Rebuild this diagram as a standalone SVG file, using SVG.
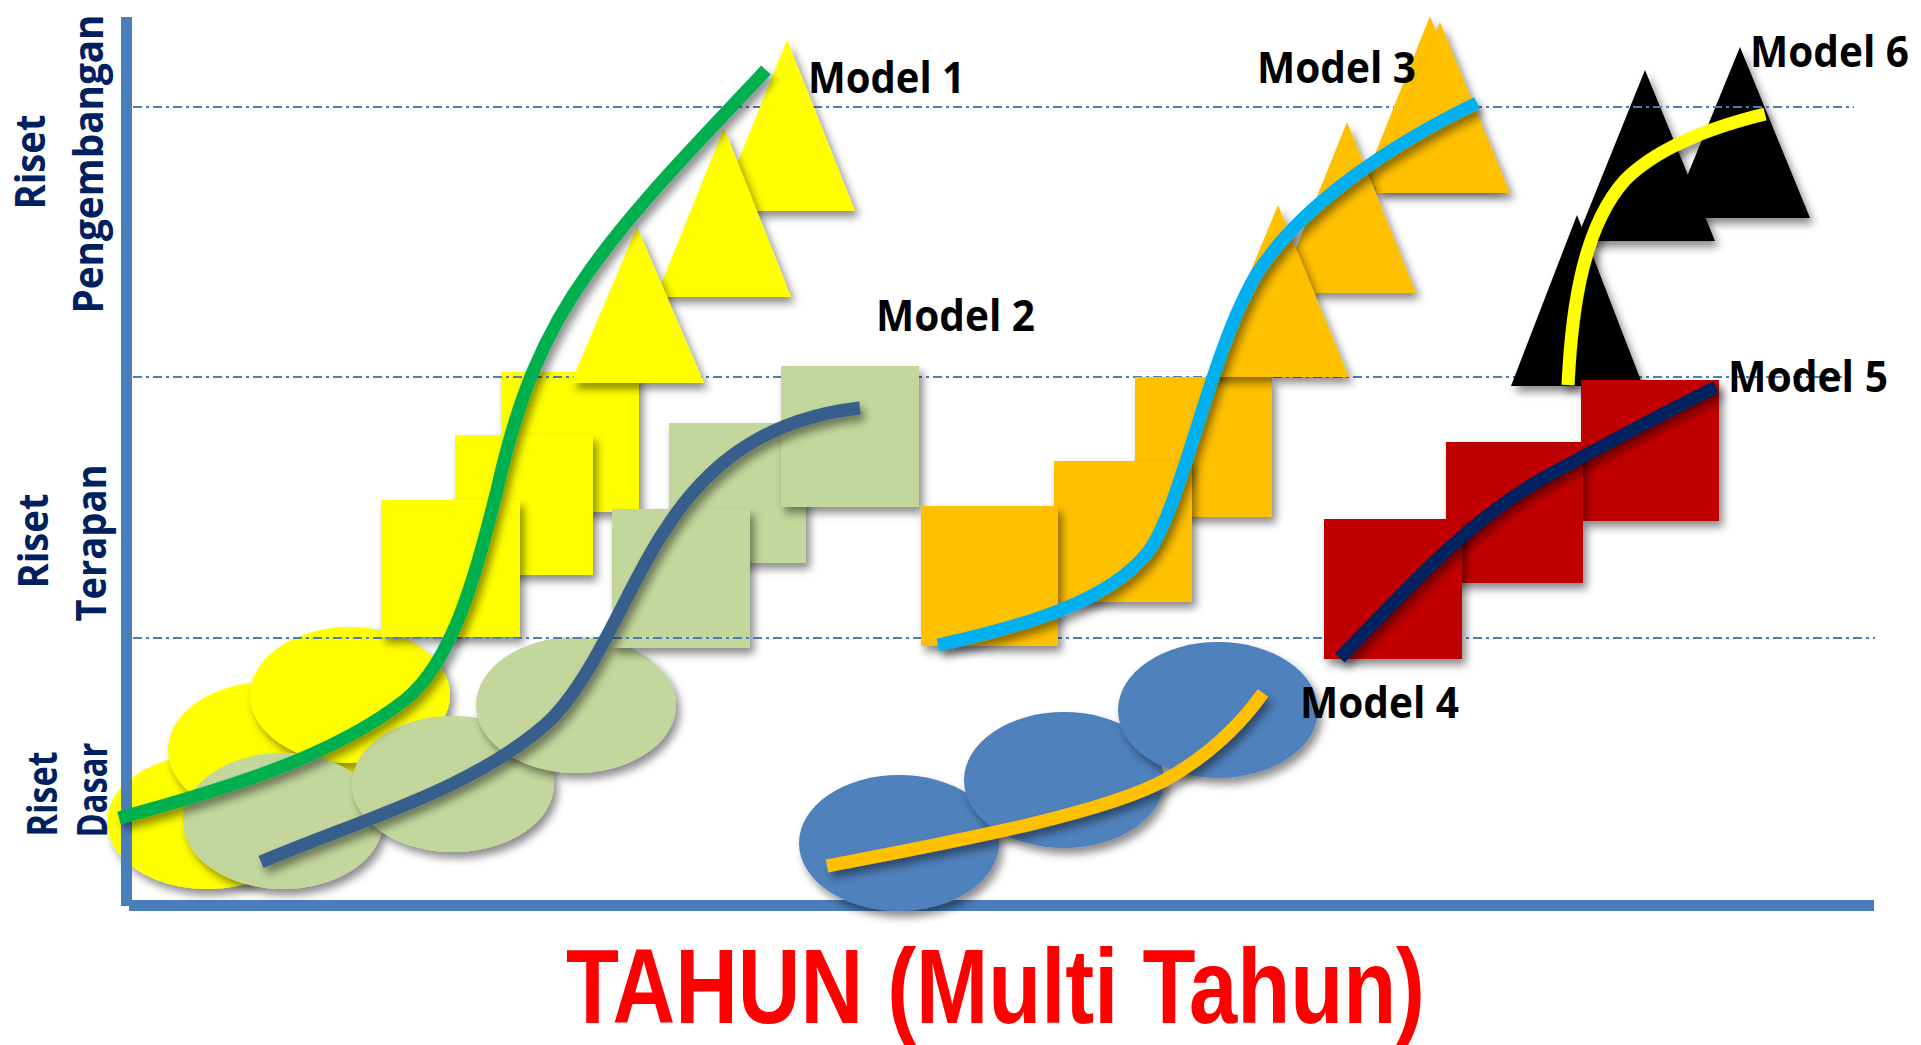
<svg xmlns="http://www.w3.org/2000/svg" width="1921" height="1045" viewBox="0 0 1921 1045">
<defs>
<filter id="sh" x="-15%" y="-15%" width="140%" height="140%">
<feDropShadow dx="4" dy="6" stdDeviation="4" flood-color="#000" flood-opacity="0.45"/>
</filter>
<style>
.sh{filter:url(#sh)}
.y{fill:#FFFF00}
.g{fill:#C3D69B}
.o{fill:#FFC000}
.b{fill:#4F81BD}
.r{fill:#C00000}
.k{fill:#000}
.grid{stroke:#4A7EBB;stroke-width:2;stroke-dasharray:9 4 3 4;fill:none}
.axis{fill:#4A7EBB}
.crv{fill:none;stroke-width:13;stroke-linecap:butt;filter:url(#sh)}
.ylab{font-family:"Open Sans","DejaVu Sans",sans-serif;font-weight:700;font-size:41px;fill:#002060;text-anchor:middle}
.mlab{font-family:"Open Sans","Liberation Sans",sans-serif;font-weight:700;font-size:43px;fill:#000}
.title{font-family:"Liberation Sans",Arial,sans-serif;font-weight:700;font-size:106px;fill:#FF0000}
</style>
</defs>
<rect width="1921" height="1045" fill="#fff"/>

<g id="x-axis"><rect class="axis" x="129" y="900" width="1745" height="11"/></g>

<g id="model1-base" class="y">
<ellipse class="sh" cx="207" cy="822" rx="100" ry="67"/>
<ellipse class="sh" cx="268" cy="750" rx="100" ry="68"/>
<ellipse class="sh" cx="350" cy="695" rx="100" ry="68"/>
<rect class="sh" x="501" y="372" width="138" height="140"/>
<rect class="sh" x="455" y="435" width="138" height="140"/>
<rect class="sh" x="381" y="500" width="139" height="137"/>
</g>

<g id="model2-base" class="g">
<ellipse class="sh" cx="283" cy="821" rx="100" ry="68"/>
<ellipse class="sh" cx="453" cy="784" rx="101" ry="68"/>
<ellipse class="sh" cx="576" cy="705" rx="100" ry="68"/>
<rect class="sh" x="669" y="423" width="137" height="140"/>
<rect class="sh" x="612" y="509" width="138" height="139"/>
</g>

<g id="grid-lower">
<line class="grid" x1="133" y1="377" x2="1845" y2="377"/>
<line class="grid" x1="133" y1="638" x2="1875" y2="638"/>
</g>

<g id="model6-shapes" class="k">
<polygon class="sh" points="1740,47 1810,218 1670,218"/>
<polygon class="sh" points="1645,70 1715,241 1576,241"/>
</g>

<g id="grid-top"><line class="grid" x1="133" y1="107" x2="1854" y2="107"/></g>

<g id="model6-low" class="k">
<polygon class="sh" points="1577,215 1643,386 1511,386"/>
</g>

<g id="model1-top" class="y">
<polygon class="sh" points="787,40 855,211 718,211"/>
<polygon class="sh" points="724,128 791,297 656,297"/>
<polygon class="sh" points="637,227 704,383 571,383"/>
</g>

<g id="model2-top" class="g">
<rect class="sh" x="781" y="366" width="138" height="141"/>
</g>

<g id="model3-shapes" class="o">
<rect class="sh" x="1135" y="377" width="137" height="140"/>
<rect class="sh" x="1054" y="461" width="138" height="141"/>
<rect class="sh" x="921" y="506" width="137" height="140"/>
<polygon class="sh" points="1430,16 1498,187 1362,187"/>
<polygon class="sh" points="1440,22 1510,193 1374,193"/>
<polygon class="sh" points="1347,122 1416,293 1278,293"/>
<polygon class="sh" points="1278,205 1349,377 1207,377"/>
</g>

<g id="model4-shapes" class="b">
<ellipse class="sh" cx="899" cy="843" rx="100" ry="68"/>
<ellipse class="sh" cx="1064" cy="780" rx="100" ry="68"/>
<ellipse class="sh" cx="1218" cy="710" rx="100" ry="68"/>
</g>

<g id="model5-shapes" class="r">
<rect class="sh" x="1581" y="380" width="138" height="141"/>
<rect class="sh" x="1446" y="442" width="137" height="141"/>
<rect class="sh" x="1324" y="519" width="138" height="140"/>
</g>

<g id="y-axis"><rect class="axis" x="121" y="17" width="11" height="889"/></g>

<g id="connectors">
<path class="crv" stroke="#00B050" d="M119,818 C230,788 335,755 405,700 C455,660 478,565 497,490 C517,400 543,335 590,270 C640,200 710,130 766,70"/>
<path class="crv" stroke="#395E8C" d="M261,862 C360,820 470,790 545,725 C595,680 630,580 665,530 C698,478 752,420 860,408"/>
<path class="crv" stroke="#00B0F0" d="M938,645 C1030,625 1110,600 1148,552 C1182,508 1210,350 1258,272 C1305,200 1400,140 1477,103"/>
<path class="crv" stroke="#FFC000" d="M827,866 C950,842 1100,815 1165,780 C1210,755 1240,725 1263,693"/>
<path class="crv" stroke="#002060" d="M1340,658 C1410,585 1470,520 1540,480 C1600,447 1660,415 1716,387"/>
<path class="crv" stroke="#FFFF00" d="M1568,385 C1572,300 1585,225 1625,180 C1660,145 1720,125 1765,114"/>
</g>

<g id="labels">
<text class="mlab" x="808" y="93" textLength="157" lengthAdjust="spacingAndGlyphs">Model 1</text>
<text class="mlab" x="876" y="331" textLength="159" lengthAdjust="spacingAndGlyphs">Model 2</text>
<text class="mlab" x="1257" y="83" textLength="159" lengthAdjust="spacingAndGlyphs">Model 3</text>
<text class="mlab" x="1300" y="718" textLength="159" lengthAdjust="spacingAndGlyphs">Model 4</text>
<text class="mlab" x="1728" y="392" textLength="160" lengthAdjust="spacingAndGlyphs">Model 5</text>
<text class="mlab" x="1750" y="67" textLength="159" lengthAdjust="spacingAndGlyphs">Model 6</text>
</g>

<g id="y-labels">
<text class="ylab" transform="translate(45,162) rotate(-90)" textLength="95" lengthAdjust="spacingAndGlyphs">Riset</text>
<text class="ylab" transform="translate(103,164) rotate(-90)" textLength="299" lengthAdjust="spacingAndGlyphs">Pengembangan</text>
<text class="ylab" transform="translate(48,541) rotate(-90)" textLength="95" lengthAdjust="spacingAndGlyphs">Riset</text>
<text class="ylab" transform="translate(106,543) rotate(-90)" textLength="157" lengthAdjust="spacingAndGlyphs">Terapan</text>
<text class="ylab" transform="translate(57,794) rotate(-90)" textLength="85" lengthAdjust="spacingAndGlyphs">Riset</text>
<text class="ylab" transform="translate(107,790) rotate(-90)" textLength="95" lengthAdjust="spacingAndGlyphs">Dasar</text>
</g>

<g id="x-title">
<text class="title" x="566" y="1023" textLength="859" lengthAdjust="spacingAndGlyphs">TAHUN (Multi Tahun)</text>
</g>
</svg>
